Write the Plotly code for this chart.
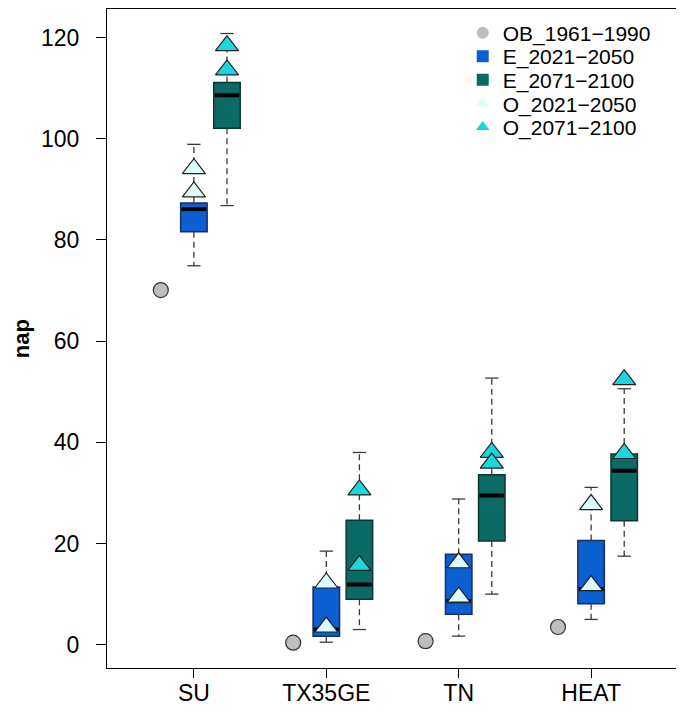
import plotly.graph_objects as go

# ---------------- data ----------------
categories = ["SU", "TX35GE", "TN", "HEAT"]

obs_1961_1990 = [70.1, 0.4, 0.7, 3.5]

e2021_low = [74.9, 0.5, 1.7, 5.0]
e2021_q1 = [81.6, 1.7, 6.0, 8.1]
e2021_med = [86.1, 3.0, 8.6, 11.0]
e2021_q3 = [87.3, 11.4, 17.9, 20.6]
e2021_high = [98.9, 18.5, 28.8, 31.1]

e2071_low = [86.8, 3.0, 10.0, 17.5]
e2071_q1 = [102.1, 9.0, 20.5, 24.5]
e2071_med = [108.6, 11.9, 29.5, 34.4]
e2071_q3 = [111.1, 24.6, 33.6, 37.7]
e2071_high = [120.8, 38.0, 52.7, 50.6]

o2021_a = [94.1, 12.2, 16.2, 27.7]
o2021_b = [89.5, 3.5, 9.4, 11.7]
o2071_a = [118.4, 30.6, 38.0, 52.4]
o2071_b = [113.6, 15.7, 35.9, 37.8]

y_ticks = [0, 20, 40, 60, 80, 100, 120]

# ---------------- style ----------------
FONT = "Liberation Sans, Arial, Helvetica, sans-serif"
C_OBS = "#bebebe"
C_E1 = "#0b5fd0"
C_E2 = "#0b6a63"
C_O1 = "#dcfcfc"
C_O2 = "#1cd6de"
BOXW = 0.8
CAP = 0.2

centers = [2 + 4 * i for i in range(len(categories))]
x_obs = [c - 1 for c in centers]
x_e1 = list(centers)
x_e2 = [c + 1 for c in centers]

fig = go.Figure()


def add_box(xs, q1, med, q3, fill, edge):
    fig.add_trace(go.Box(
        x=xs, q1=q1, median=med, q3=q3, lowerfence=q1, upperfence=q3,
        width=BOXW, fillcolor=fill, line=dict(color=edge, width=1.5),
        whiskerwidth=0, showlegend=False, hoverinfo="skip", boxpoints=False,
    ))


def add_whiskers(xs, low, q1, q3, high):
    wx, wy, cx, cy = [], [], [], []
    for x, lo, a, b, hi in zip(xs, low, q1, q3, high):
        wx += [x, x, None, x, x, None]
        wy += [b, hi, None, a, lo, None]
        cx += [x - CAP, x + CAP, None, x - CAP, x + CAP, None]
        cy += [hi, hi, None, lo, lo, None]
    fig.add_trace(go.Scatter(x=wx, y=wy, mode="lines",
                             line=dict(color="#3a3a3a", width=1.3, dash="6px,4px"),
                             showlegend=False, hoverinfo="skip"))
    fig.add_trace(go.Scatter(x=cx, y=cy, mode="lines",
                             line=dict(color="#3a3a3a", width=1.3),
                             showlegend=False, hoverinfo="skip"))


def add_median(xs, med):
    mx, my = [], []
    for x, m in zip(xs, med):
        mx += [x - BOXW / 2 + 0.03, x + BOXW / 2 - 0.03, None]
        my += [m, m, None]
    fig.add_trace(go.Scatter(x=mx, y=my, mode="lines",
                             line=dict(color="black", width=4),
                             showlegend=False, hoverinfo="skip"))


add_whiskers(x_e1, e2021_low, e2021_q1, e2021_q3, e2021_high)
add_whiskers(x_e2, e2071_low, e2071_q1, e2071_q3, e2071_high)
add_box(x_e1, e2021_q1, e2021_med, e2021_q3, C_E1, "#1a2e60")
add_box(x_e2, e2071_q1, e2071_med, e2071_q3, C_E2, "#0a3835")
add_median(x_e1, e2021_med)
add_median(x_e2, e2071_med)

# points
fig.add_trace(go.Scatter(x=x_obs, y=obs_1961_1990, mode="markers",
                         marker=dict(symbol="circle", size=15, color=C_OBS,
                                     line=dict(color="#333333", width=1.2)),
                         showlegend=False, hoverinfo="skip"))
fig.add_trace(go.Scatter(x=x_e1 + x_e1, y=o2021_a + o2021_b, mode="markers",
                         marker=dict(symbol="triangle-up", size=20, color=C_O1,
                                     line=dict(color="#222222", width=1.2)),
                         showlegend=False, hoverinfo="skip"))
fig.add_trace(go.Scatter(x=x_e2 + x_e2, y=o2071_a + o2071_b, mode="markers",
                         marker=dict(symbol="triangle-up", size=20, color=C_O2,
                                     line=dict(color="#222222", width=1.2)),
                         showlegend=False, hoverinfo="skip"))

# figure geometry (page body has an 8px margin, so the figure is 8px smaller)
FIG_W, FIG_H = 676, 705
M_L, M_R, M_T, M_B = 99, 6, 1, 45
PLOT_H = FIG_H - M_T - M_B

# legend entries: one legend per row so the row spacing can match
legend_items = [
    ("OB_1961\u22121990", "circle", C_OBS),
    ("E_2021\u22122050", "square", C_E1),
    ("E_2071\u22122100", "square", C_E2),
    ("O_2021\u22122050", "triangle-up", C_O1),
    ("O_2071\u22122100", "triangle-up", C_O2),
]
ROW0, ROW_STEP = 25, 23.6
legend_layout = {}
for i, (name, sym, col) in enumerate(legend_items):
    key = "legend" if i == 0 else f"legend{i + 1}"
    fig.add_trace(go.Scatter(x=[None], y=[None], mode="markers", name=name,
                             legend=key,
                             marker=dict(symbol=sym, size=14, color=col,
                                         line=dict(width=0))))
    ycen = ROW0 + i * ROW_STEP
    legend_layout[key] = dict(
        x=0.623, y=1 - (ycen - M_T) / PLOT_H, xanchor="left",
        yanchor="middle", bgcolor="rgba(0,0,0,0)",
        font=dict(family=FONT, size=21, color="black"),
        itemsizing="constant", borderwidth=0)

fig.add_annotation(text="<b>nap</b>", xref="paper", yref="paper",
                   x=-0.1495, y=0.5, xanchor="center", yanchor="middle",
                   showarrow=False, textangle=-90,
                   font=dict(family=FONT, size=22, color="black"))

fig.update_layout(
    width=FIG_W, height=FIG_H,
    margin=dict(l=M_L, r=M_R, t=M_T, b=M_B, autoexpand=False),
    paper_bgcolor="white", plot_bgcolor="white",
    font=dict(family=FONT, size=23, color="black"),
    showlegend=True,
    xaxis=dict(range=[-0.625, 16.625], tickmode="array", tickvals=centers,
               ticktext=categories, showline=True, mirror=True,
               linecolor="black", linewidth=1, ticks="outside", ticklen=9,
               tickcolor="black", showgrid=False, zeroline=False,
               automargin=False, ticklabelstandoff=-5,
               tickfont=dict(family=FONT, size=23)),
    yaxis=dict(range=[-4.6, 125.65], tickmode="array",
               tickvals=y_ticks, showline=True,
               mirror=True, linecolor="black", linewidth=1, ticks="outside",
               ticklen=10, tickcolor="black", showgrid=False, zeroline=False,
               automargin=False, ticklabelstandoff=12,
               tickfont=dict(family=FONT, size=23)),
    **legend_layout,
)

fig.write_html("out.html")
